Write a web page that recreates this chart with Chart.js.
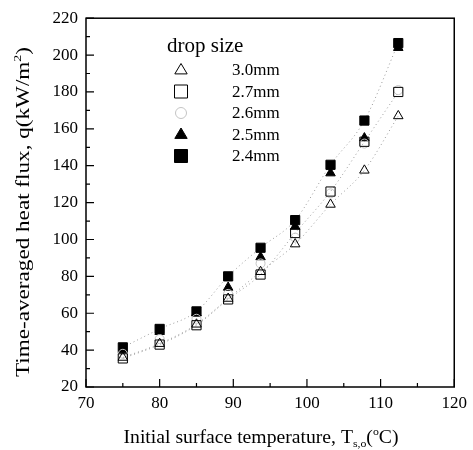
<!DOCTYPE html>
<html>
<head>
<meta charset="utf-8">
<script src="https://cdn.jsdelivr.net/npm/chart.js@4.4.0/dist/chart.umd.min.js"></script>
<style>
  html, body { margin: 0; padding: 0; background: #fff; }
  #wrap { width: 473px; height: 450px; }
</style>
</head>
<body>
<div id="wrap"><canvas id="chart"></canvas></div>
<script>
// initial surface temperature (°C)
const temps = [75, 80, 85, 89.3, 93.7, 98.4, 103.2, 107.8, 112.4]
// time-averaged heat flux (kW/m2) per drop size
const size30 = [36, 43.5, 54, 68, 82.5, 97.5, 119, 137.5, 167]
const size27 = [35.5, 43, 53.5, 67.5, 81, 103.5, 126, 153, 180]
const size26 = [38, 46, 57, 70.5, 87, 101, 125, 152, 181]
const size25 = [40, 50, 60, 74, 90.5, 107, 136, 155, 204]
const size24 = [41.5, 51.5, 61, 80, 95.5, 110.5, 140.5, 164.5, 206.5]

const sizeLabels = ["3.0mm", "2.7mm", "2.6mm", "2.5mm", "2.4mm"]
const xTickLabels = [70, 80, 90, 100, 110, 120]
const yTickLabels = [20, 40, 60, 80, 100, 120, 140, 160, 180, 200, 220]

const SERIF = "'Liberation Serif', 'DejaVu Serif', serif"

const pts = arr => arr.map((y, i) => ({ x: temps[i], y }))

const markers = [
  { style: "triangle", radius: 5.5, fill: "rgba(0,0,0,0)", stroke: "#000" },
  { style: "rect", radius: 6.5, fill: "rgba(0,0,0,0)", stroke: "#000" },
  { style: "circle", radius: 4.5, fill: "rgba(0,0,0,0)", stroke: "#c4c4c4" },
  { style: "triangle", radius: 5.5, fill: "#000", stroke: "#000" },
  { style: "rect", radius: 6.5, fill: "#000", stroke: "#000" }
]

const series = [size30, size27, size26, size25, size24]

const pointSets = series.map((arr, i) => ({
  label: sizeLabels[i],
  data: pts(arr),
  showLine: false,
  pointStyle: markers[i].style,
  pointRadius: markers[i].radius,
  pointBackgroundColor: markers[i].fill,
  pointBorderColor: markers[i].stroke,
  pointBorderWidth: 1,
  order: i
}))

// dotted guide curves through the data
const fitSets = [size30, size27, size24].map(arr => ({
  label: "fit",
  data: pts(arr),
  showLine: true,
  borderColor: "#9a9a9a",
  borderWidth: 1,
  borderDash: [1, 3],
  cubicInterpolationMode: "monotone",
  pointRadius: 0,
  order: 10
}))

const frameTicks = {
  id: "frameTicks",
  afterDatasetsDraw(chart) {
    const { ctx, chartArea: a, scales } = chart
    ctx.save()
    ctx.strokeStyle = "#000"
    ctx.lineWidth = 1.2
    ctx.beginPath()
    scales.x.ticks.forEach(t => {
      const px = scales.x.getPixelForValue(t.value)
      const len = t.value % 10 === 0 ? 8 : 4
      ctx.moveTo(px, a.bottom)
      ctx.lineTo(px, a.bottom - len)
    })
    scales.y.ticks.forEach(t => {
      const py = scales.y.getPixelForValue(t.value)
      const len = t.value % 20 === 0 ? 8 : 4
      ctx.moveTo(a.left, py)
      ctx.lineTo(a.left + len, py)
    })
    ctx.stroke()
    ctx.lineWidth = 1.5
    ctx.strokeRect(a.left, a.top, a.right - a.left, a.bottom - a.top)
    ctx.restore()
  }
}

function drawMarker(ctx, m, x, y, r) {
  ctx.beginPath()
  if (m.style === "triangle") {
    ctx.moveTo(x, y - r)
    ctx.lineTo(x + r * 0.95, y + r * 0.6)
    ctx.lineTo(x - r * 0.95, y + r * 0.6)
    ctx.closePath()
  } else if (m.style === "rect") {
    ctx.rect(x - r, y - r, 2 * r, 2 * r)
  } else {
    ctx.arc(x, y, r, 0, Math.PI * 2)
  }
  ctx.fillStyle = m.fill
  ctx.fill()
  ctx.strokeStyle = m.stroke
  ctx.lineWidth = 1
  ctx.stroke()
}

// text made of [text, kind] pieces, kind: "n" normal, "sup", "sub"
function pieceWidth(ctx, pieces, size) {
  let w = 0
  pieces.forEach(([t, k]) => {
    ctx.font = (k === "n" ? size : size * 0.6) + "px " + SERIF
    w += ctx.measureText(t).width
  })
  return w
}
function drawPieces(ctx, pieces, x, y, size) {
  pieces.forEach(([t, k]) => {
    const s = k === "n" ? size : size * 0.6
    ctx.font = s + "px " + SERIF
    let dy = 0
    if (k === "sup") dy = -size * 0.4
    if (k === "sub") dy = size * 0.2
    ctx.fillText(t, x, y + dy)
    x += ctx.measureText(t).width
  })
}
// centred at (0, 0) in current frame, stretched to a given length
function drawTitle(ctx, pieces, size, length) {
  const w = pieceWidth(ctx, pieces, size)
  ctx.scale(length / w, 1)
  drawPieces(ctx, pieces, -w / 2, 0, size)
}

const decor = {
  id: "decor",
  afterDraw(chart) {
    const { ctx } = chart
    ctx.save()
    ctx.fillStyle = "#000"
    ctx.textBaseline = "alphabetic"
    ctx.textAlign = "left"

    // legend
    ctx.font = "21px " + SERIF
    ctx.fillText("drop size", 167, 52)
    sizeLabels.forEach((lab, i) => {
      const yy = 70 + i * 21.5
      const m = markers[i]
      const r = m.style === "circle" ? 5.5 : 6.5
      drawMarker(ctx, m, 181, yy, r)
      ctx.fillStyle = "#000"
      ctx.font = "17px " + SERIF
      ctx.fillText(lab, 232, yy + 5)
    })

    // x title
    ctx.save()
    ctx.translate(261, 443)
    drawTitle(ctx, [["Initial surface temperature, T", "n"], ["s,o", "sub"], ["(", "n"], ["o", "sup"], ["C)", "n"]], 19, 275)
    ctx.restore()

    // y title
    ctx.save()
    ctx.translate(29, 212)
    ctx.rotate(-Math.PI / 2)
    drawTitle(ctx, [["Time-averaged heat flux, q(kW/m", "n"], ["2", "sup"], [")", "n"]], 19, 330)
    ctx.restore()

    ctx.restore()
  }
}

new Chart(document.getElementById("chart"), {
  type: "scatter",
  data: { datasets: [...pointSets, ...fitSets] },
  options: {
    responsive: true,
    maintainAspectRatio: false,
    animation: false,
    layout: { padding: { left: 0, right: 14, top: 16, bottom: 0 } },
    plugins: {
      legend: { display: false },
      tooltip: { enabled: false }
    },
    scales: {
      x: {
        type: "linear",
        min: 70,
        max: 120,
        ticks: {
          stepSize: 5,
          autoSkip: false,
          maxRotation: 0,
          padding: 6,
          color: "#000",
          font: { family: SERIF, size: 17 },
          callback: v => xTickLabels.includes(v) ? String(v) : ""
        },
        grid: { display: false, drawTicks: false },
        border: { display: false },
        afterFit: s => { s.height = 63 }
      },
      y: {
        type: "linear",
        min: 20,
        max: 220,
        ticks: {
          stepSize: 10,
          autoSkip: false,
          padding: 8,
          color: "#000",
          font: { family: SERIF, size: 17 },
          callback: v => yTickLabels.includes(v) ? String(v) : ""
        },
        grid: { display: false, drawTicks: false },
        border: { display: false },
        afterFit: s => { s.width = 86 }
      }
    }
  },
  plugins: [frameTicks, decor]
})
</script>
</body>
</html>
